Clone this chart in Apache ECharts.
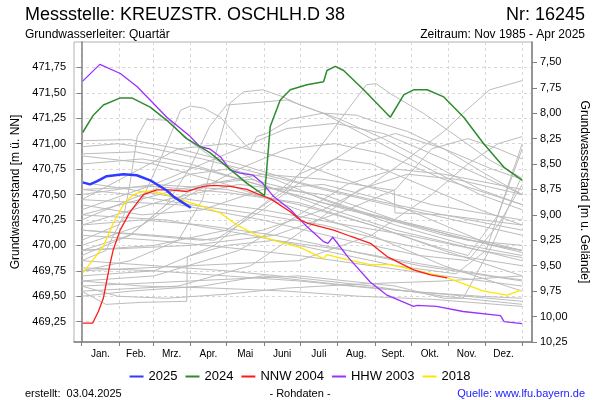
<!DOCTYPE html>
<html><head><meta charset="utf-8">
<script src="https://cdn.jsdelivr.net/npm/echarts@6/dist/echarts.min.js"></script>
<style>html,body{margin:0;padding:0;background:#fff}#c{width:600px;height:400px}</style>
</head><body><div id="c"></div>
<script>
// ---- data ----
const monthStarts = [0,31,59,90,120,151,181,212,243,273,304,334,365];
const monthLabels = ['Jan.','Feb.','Mrz.','Apr.','Mai','Juni','Juli','Aug.','Sept.','Okt.','Nov.','Dez.'];
const leftTicks = [469.25,469.5,469.75,470,470.25,470.5,470.75,471,471.25,471.5,471.75];
const rightTicks = [7.5,7.75,8,8.25,8.5,8.75,9,9.25,9.5,9.75,10,10.25];
const groundLevel = 479.30;

const s2025 = [[0.8,470.62],[6.8,470.60],[12.4,470.63],[20.7,470.68],[34.5,470.70],[45.6,470.69],[56.7,470.64],[70.5,470.54],[76,470.48],[90.4,470.37]];
const s2024 = [[0.8,471.11],[9.6,471.28],[18,471.38],[32,471.45],[41.5,471.45],[56.7,471.36],[70.5,471.23],[87,471.05],[106.4,470.91],[125.8,470.72],[136.9,470.61],[151.5,470.49],[156.2,471.17],[164.5,471.43],[172.8,471.53],[186.6,471.58],[200.4,471.61],[203.2,471.72],[210.1,471.76],[217,471.72],[233.6,471.53],[255.7,471.26],[266.8,471.48],[275,471.53],[286.2,471.53],[300,471.46],[316.5,471.26],[333.1,471.00],[349.7,470.77],[365,470.64]];
const nnw2004 = [[0.8,469.235],[9,469.235],[13.8,469.35],[17.9,469.48],[23.5,469.82],[26.2,469.96],[31.8,470.15],[40.1,470.33],[51.1,470.50],[62.2,470.545],[73.2,470.545],[87.1,470.53],[100.9,470.58],[109.2,470.59],[123,470.58],[136.9,470.55],[145.2,470.51],[156.2,470.46],[172.8,470.33],[181,470.25],[186.6,470.22],[208.7,470.15],[222.6,470.09],[239.2,470.02],[253,469.89],[275.1,469.76],[288.9,469.71],[302.8,469.68]];
const hhw2003 = [[0.8,471.615],[15,471.78],[32,471.69],[46,471.56],[70.5,471.26],[90,471.07],[98,470.97],[106,470.95],[115,470.87],[123,470.74],[131,470.71],[142,470.69],[150,470.61],[159,470.48],[173,470.35],[187,470.18],[200,470.04],[204,470.02],[208,470.08],[221,469.88],[239,469.64],[253,469.51],[275,469.40],[278,469.41],[294,469.40],[316,469.35],[347,469.31],[350,469.25],[365,469.23]];
const s2018 = [[0.8,469.73],[9.6,469.86],[17.9,469.99],[26.2,470.22],[34.5,470.40],[42.8,470.50],[51.1,470.53],[59.4,470.53],[70.5,470.50],[87.1,470.43],[100.9,470.38],[114.7,470.32],[128.6,470.20],[145.2,470.10],[161.8,470.04],[180.9,469.98],[200.4,469.87],[203.2,469.91],[219.8,469.86],[239.2,469.81],[255.8,469.81],[275.1,469.76],[302.8,469.68],[319.4,469.61],[333.1,469.55],[352.6,469.51],[363.7,469.56]];

const gray01 = [[0,471.03],[40,471.04],[80,470.95],[130,470.80],[180,470.62],[240,470.45],[300,470.30],[365,470.15]];
const gray02 = [[0,470.97],[30,471.00],[60,470.95],[100,470.85],[150,470.70],[200,470.55],[260,470.38],[320,470.22],[365,470.10]];
const gray03 = [[0,470.90],[45,470.92],[90,470.80],[140,470.62],[200,470.42],[260,470.25],[320,470.08],[365,469.95]];
const gray04 = [[0,470.80],[50,470.85],[100,470.75],[160,470.55],[220,470.35],[280,470.18],[340,470.00],[365,469.93]];
const gray05 = [[0,470.62],[40,470.55],[90,470.45],[150,470.35],[210,470.22],[270,470.10],[330,469.95],[365,469.88]];
const gray06 = [[0,469.85],[20,469.95],[35,470.30],[40,470.61],[46,471.07],[54,471.24],[73,471.23],[84,471.07],[110,470.85],[150,470.60],[200,470.38],[260,470.15],[320,469.98],[365,469.85]];
const gray07 = [[0,470.05],[30,470.20],[50,470.45],[65,470.84],[82,471.33],[90,471.37],[101,471.35],[115,471.26],[137,470.97],[140,470.95],[145,471.07],[153,471.10],[173,471.24],[200,471.30],[228,471.28],[242,471.22],[270,471.12],[300,470.95],[335,470.70],[365,470.50]];
const gray08 = [[0,469.95],[40,470.10],[70,470.40],[90,470.77],[106,471.17],[120,471.38],[150,471.41],[170,471.43],[200,471.30],[240,471.05],[280,470.80],[330,470.50],[365,470.35]];
const gray09 = [[0,469.75],[40,469.85],[80,470.05],[100,470.45],[112,470.94],[123,471.40],[134,471.51],[150,471.53],[167,471.46],[181,471.38],[212,471.25],[250,471.05],[290,470.80],[330,470.55],[365,470.40]];
const gray10 = [[0,469.95],[60,470.00],[120,470.15],[170,470.55],[190,470.85],[206,471.10],[222,471.36],[236,471.58],[244,471.59],[256,471.49],[283,471.30],[311,471.07],[338,470.84],[365,470.66]];
const gray11 = [[0,470.15],[50,470.10],[100,470.05],[150,470.15],[200,470.35],[240,470.60],[270,470.85],[283,470.97],[300,471.12],[316,471.30],[338,471.53],[365,471.62]];
const gray12 = [[0,469.55],[20,469.42],[50,469.44],[87,469.45],[87.5,469.89],[120,470.00],[160,470.05],[220,469.95],[280,469.80],[365,469.65]];
const gray13 = [[0,470.30],[80,470.55],[150,470.70],[200,470.65],[259,470.54],[259.5,470.32],[300,470.30],[365,470.20]];
const gray14 = [[0,469.78],[60,469.75],[120,469.70],[180,469.65],[240,469.58],[300,469.52],[365,469.45]];
const gray15 = [[0,469.65],[50,469.60],[110,469.58],[170,469.55],[230,469.50],[290,469.47],[365,469.40]];
const gray16 = [[0,469.50],[40,469.55],[100,469.60],[150,469.70],[210,469.62],[270,469.55],[330,469.50],[365,469.48]];
const gray17 = [[0,469.60],[30,469.50],[70,469.48],[120,469.52],[170,469.58],[230,469.62],[300,469.65],[365,469.70]];
const gray18 = [[0,469.85],[60,469.80],[120,469.75],[180,469.68],[240,469.60],[300,469.50],[365,469.42]];
const gray19 = [[0,470.10],[60,470.05],[120,469.98],[180,469.90],[240,469.80],[300,469.70],[365,469.60]];
const gray20 = [[0,470.20],[50,470.25],[100,470.20],[160,470.10],[220,469.95],[280,469.82],[340,469.70],[365,469.66]];
const gray21 = [[0,469.70],[60,469.75],[110,470.00],[150,470.40],[180,470.70],[210,470.85],[240,470.80],[280,470.60],[330,470.35],[365,470.20]];
const gray22 = [[0,470.00],[50,470.20],[90,470.50],[130,470.75],[170,470.95],[210,471.00],[250,470.90],[300,470.65],[365,470.40]];
const gray23 = [[0,469.55],[80,469.60],[140,469.80],[190,470.20],[230,470.55],[270,470.70],[310,470.65],[365,470.50]];
const gray24 = [[0,469.75],[90,469.80],[180,469.85],[240,470.10],[290,470.50],[320,470.80],[345,471.00],[365,471.07]];
const gray25 = [[0,470.50],[60,470.60],[120,470.55],[180,470.40],[240,470.20],[290,470.00],[320,469.90],[345,470.30],[365,470.95]];
const gray26 = [[0,470.30],[70,470.25],[140,470.10],[200,469.95],[260,469.80],[310,469.72],[335,469.95],[365,471.00]];
const gray27 = [[0,470.45],[80,470.40],[150,470.25],[220,470.05],[280,469.90],[320,469.85],[345,470.20],[365,470.60]];
const gray28 = [[0,469.90],[40,470.10],[70,470.40],[100,470.60],[140,470.65],[190,470.50],[240,470.30],[300,470.10],[365,469.95]];
const gray29 = [[0,470.25],[30,470.40],[60,470.55],[90,470.70],[120,470.75],[160,470.65],[200,470.45],[260,470.20],[320,470.00],[365,469.90]];
const gray30 = [[0,469.95],[90,470.00],[160,470.10],[220,470.35],[260,470.55],[290,470.95],[320,471.05],[345,470.95],[365,470.85]];
const gray31 = [[0,470.55],[40,470.50],[90,470.40],[150,470.30],[200,470.20],[250,470.05],[310,469.90],[365,469.80]];
const gray32 = [[0,470.15],[60,470.10],[110,470.05],[150,470.35],[190,470.70],[230,471.00],[260,471.10],[300,470.95],[340,470.75],[365,470.65]];
const gray33 = [[0,470.35],[60,470.60],[120,470.90],[170,471.15],[210,471.20],[250,471.10],[300,470.85],[365,470.50]];
const gray34 = [[0,470.55],[60,470.58],[120,470.52],[180,470.42],[240,470.20],[300,469.95],[365,469.70]];
const gray35 = [[0,469.60],[90,469.65],[180,469.70],[260,469.60],[300,469.48],[316,469.48],[340,470.00],[363,470.64]];
const gray36 = [[0,470.40],[50,470.30],[100,470.35],[150,470.55],[200,470.60],[250,470.45],[300,470.20],[340,470.00],[365,469.95]];
const gray37 = [[0,470.88],[60,470.80],[120,470.60],[180,470.35],[240,470.10],[300,469.80],[365,469.55]];
const gray38 = [[0,470.45],[40,470.70],[80,470.95],[120,471.00],[170,470.85],[230,470.60],[290,470.40],[365,470.25]];
const gray39 = [[0,469.65],[60,469.70],[130,469.95],[180,470.30],[220,470.60],[260,470.75],[300,470.70],[365,470.55]];
const gray40 = [[0,470.20],[70,470.45],[130,470.60],[200,470.50],[260,470.25],[320,470.05],[365,470.00]];

const grayLines = [gray01,gray02,gray03,gray04,gray05,gray06,gray07,gray08,gray09,gray10,gray11,gray12,gray13,gray14,gray15,gray16,gray17,gray18,gray19,gray20,gray21,gray22,gray23,gray24,gray25,gray26,gray27,gray28,gray29,gray30,gray31,gray32,gray33,gray34,gray35,gray36,gray37,gray38,gray39,gray40];

// ---- chart ----
const monthMids = monthLabels.map((_, i) => (monthStarts[i] + monthStarts[i + 1]) / 2);
const fmt = v => (Math.round(v * 100) / 100).toFixed(2).replace('.', ',');
const FONT = 'Liberation Sans, Arial, sans-serif';

const series = grayLines.map((d, i) => ({
  name: 'g' + i, type: 'line', data: d, showSymbol: false, silent: true, z: 1,
  lineStyle: { color: '#bcbcbc', width: 1 }
}));
const colored = [
  { name: '2018', data: s2018, color: '#ffe600', width: 1.3 },
  { name: 'HHW 2003', data: hhw2003, color: '#9b30ff', width: 1.3 },
  { name: 'NNW 2004', data: nnw2004, color: '#ff1a1a', width: 1.3 },
  { name: '2024', data: s2024, color: '#2e8b2e', width: 1.5 },
  { name: '2025', data: s2025, color: '#2f3cff', width: 2.5 }
];
colored.forEach((c, i) => series.push({
  name: c.name, type: 'line', data: c.data, showSymbol: false, z: 3 + i,
  itemStyle: { color: c.color }, lineStyle: { color: c.color, width: c.width }
}));

const chart = echarts.init(document.getElementById('c'), null, { renderer: 'canvas' });
chart.setOption({
  animation: false,
  backgroundColor: '#fff',
  textStyle: { fontFamily: FONT },
  title: [
    { text: 'Messstelle: KREUZSTR. OSCHLH.D 38', left: 20, top: 1, textStyle: { fontSize: 18, fontWeight: 'normal', color: '#000', fontFamily: FONT } },
    { text: 'Nr: 16245', right: 10, top: 1, textStyle: { fontSize: 18, fontWeight: 'normal', color: '#000', fontFamily: FONT } },
    { text: 'Grundwasserleiter: Quartär', left: 20, top: 24, textStyle: { fontSize: 12, fontWeight: 'normal', color: '#000', fontFamily: FONT } },
    { text: 'Zeitraum: Nov 1985 - Apr 2025', right: 10, top: 24, textStyle: { fontSize: 12, fontWeight: 'normal', color: '#000', fontFamily: FONT } },
    { text: 'erstellt:  03.04.2025', left: 20, top: 383, textStyle: { fontSize: 11, fontWeight: 'normal', color: '#000', fontFamily: FONT } },
    { text: '- Rohdaten -', left: 'center', top: 383, textStyle: { fontSize: 11, fontWeight: 'normal', color: '#000', fontFamily: FONT } },
    { text: 'Quelle: www.lfu.bayern.de', right: 10, top: 383, textStyle: { fontSize: 11, fontWeight: 'normal', color: '#2020ff', fontFamily: FONT } }
  ],
  legend: {
    data: ['2025', '2024', 'NNW 2004', 'HHW 2003', '2018'],
    left: 'center', top: 365, icon: 'rect', itemWidth: 14, itemHeight: 2, itemGap: 8,
    textStyle: { fontSize: 13, color: '#000', fontFamily: FONT }
  },
  grid: { left: 74, right: 68, top: 42, height: 300, show: true, borderColor: '#b0b0b0', borderWidth: 1, backgroundColor: 'transparent' },
  xAxis: {
    type: 'value', min: -6.4, max: 373.1,
    axisLine: { show: true, lineStyle: { color: '#808080', width: 1.5 } },
    axisTick: { show: true, length: 4, customValues: monthStarts, lineStyle: { color: '#808080' } },
    axisLabel: {
      customValues: monthMids, fontSize: 10, color: '#000', margin: 7, fontFamily: FONT,
      formatter: v => { const i = monthMids.findIndex(m => Math.abs(m - v) < 0.01); return i >= 0 ? monthLabels[i] : ''; }
    },
    splitLine: { show: true, lineStyle: { color: '#d8d8d8', type: [3, 3], width: 1 } }
  },
  yAxis: [
    {
      type: 'value', min: 469.05, max: 472.0, position: 'left',
      name: 'Grundwasserstand [m ü. NN]', nameLocation: 'middle', nameRotate: 90, nameGap: 43,
      nameTextStyle: { fontSize: 12, color: '#000', fontFamily: FONT },
      axisLine: { show: true, lineStyle: { color: '#808080', width: 1.5 } },
      axisTick: { show: true, length: 5, customValues: leftTicks, lineStyle: { color: '#808080' } },
      axisLabel: { customValues: leftTicks, formatter: fmt, fontSize: 11, color: '#000', margin: 8, fontFamily: FONT },
      splitLine: { show: true, lineStyle: { color: '#d8d8d8', type: [3, 3], width: 1 } }
    },
    {
      type: 'value', min: +(groundLevel - 472.0).toFixed(2), max: +(groundLevel - 469.05).toFixed(2), inverse: true, position: 'right',
      name: 'Grundwasserstand [m u. Gelände]', nameLocation: 'middle', nameRotate: -90, nameGap: 44,
      nameTextStyle: { fontSize: 12, color: '#000', fontFamily: FONT },
      axisLine: { show: true, lineStyle: { color: '#808080', width: 1.5 } },
      axisTick: { show: true, length: 5, customValues: rightTicks, lineStyle: { color: '#808080' } },
      axisLabel: { customValues: rightTicks, formatter: fmt, fontSize: 11, color: '#000', margin: 8, fontFamily: FONT },
      splitLine: { show: false }
    }
  ],
  series: series
});
</script>
</body></html>
